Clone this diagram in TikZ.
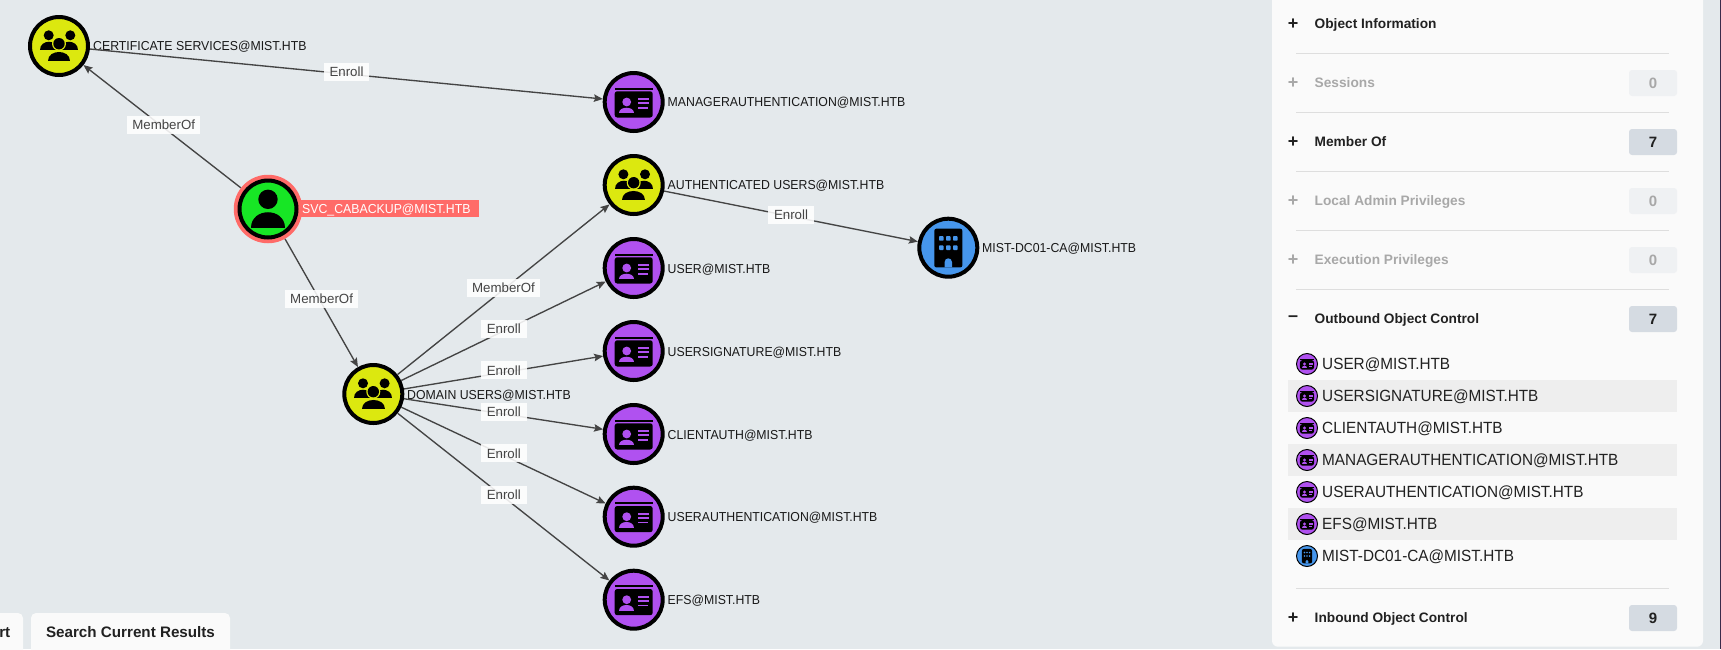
\documentclass[tikz,border=0pt]{standalone}
\usepackage{fontspec}
\setmainfont{Liberation Sans}
\newfontfamily\narrowfont[FakeStretch=.946]{Liberation Sans}
\usetikzlibrary{arrows.meta}
\definecolor{bgc}{HTML}{E4E9EC}
\definecolor{panelc}{HTML}{FAFAFA}
\definecolor{sepc}{HTML}{DEDEDE}
\definecolor{stripec}{HTML}{EEEEEE}
\definecolor{edgec}{HTML}{444444}
\definecolor{yellowc}{HTML}{DCE80F}
\definecolor{greenc}{HTML}{17E625}
\definecolor{purplec}{HTML}{B051F0}
\definecolor{bluec}{HTML}{4696EC}
\definecolor{redc}{HTML}{FF6B68}
\definecolor{badgeon}{HTML}{D5DBE2}
\definecolor{badgeoff}{HTML}{EFF1F3}
\definecolor{txtdark}{HTML}{212121}
\definecolor{txtoff}{HTML}{A8A8A8}
\definecolor{edgestrip}{HTML}{3A2A4A}
\tikzset{
  entity/.style={circle,draw=black,line width=4pt,inner sep=0pt,minimum size=58pt},
  mini/.style={circle,draw=black,line width=1pt,inner sep=0pt,minimum size=21pt},
  nodetext/.style={anchor=west,inner sep=0pt,text height=12pt,text depth=2.7pt,font=\narrowfont\fontsize{13}{15}\selectfont,text=black!90},
  edgelabel/.style={fill=white,fill opacity=.88,text opacity=1,text=edgec,inner sep=0pt,minimum height=18pt,minimum width=45.5pt,font=\fontsize{13.3}{15}\selectfont},
  memberlabel/.style={edgelabel,minimum width=73.5pt},
  edgeline/.style={draw=edgec,line width=1.35pt,-{Stealth[length=9pt,width=7.5pt,inset=1.5pt]}},
  rowtitle/.style={anchor=west,inner sep=0pt,text height=13pt,text depth=3.3pt,font=\fontsize{13.7}{15}\selectfont\bfseries,text=txtdark},
  rowoff/.style={rowtitle,text=txtoff},
  signon/.style={inner sep=0pt,font=\fontsize{18}{18}\selectfont\bfseries,text=txtdark},
  signoff/.style={signon,text=txtoff},
  badge/.style={fill=badgeon,rounded corners=3pt,minimum width=48pt,minimum height=26pt,inner sep=0pt,text=txtdark,font=\fontsize{15}{15}\selectfont\bfseries},
  badgeo/.style={badge,fill=badgeoff,text=txtoff},
  listtext/.style={anchor=west,inner sep=0pt,text height=15pt,text depth=3.4pt,font=\narrowfont\fontsize{16.2}{18}\selectfont,text=txtdark},
  sepline/.style={draw=sepc,line width=.9pt},
  buttontext/.style={inner sep=0pt,text height=14pt,text depth=3.3pt,font=\fontsize{15.2}{17}\selectfont\bfseries,text=txtdark},
  grouppic/.pic={
    \fill (-10.3,-10.7) circle (5);
    \fill (11.3,-10.7) circle (5);
    \fill (-19,4.3) .. controls (-19,-7) and (-1,-7) .. (-1,4.3) -- cycle;
    \fill (1,4.3) .. controls (1,-7) and (19,-7) .. (19,4.3) -- cycle;
    \fill[yellowc] (-13,17) .. controls (-13,1) and (13,1) .. (13,17) -- cycle;
    \fill[yellowc] (0,-2.3) circle (7);
    \fill (0,-2.3) circle (5.7);
    \fill (-11.3,15.3) .. controls (-11.3,3) and (11.3,3) .. (11.3,15.3) -- cycle;
  },
  userpic/.pic={
    \fill (0,-9.7) circle (9.7);
    \fill (-16.7,19.3) .. controls (-16.7,-2) and (16.7,-2) .. (16.7,19.3) -- cycle;
  },
  cardpic/.pic={
    \fill (-19,-14.5) rectangle (19,-12.3);
    \fill[rounded corners=2.5pt] (-19,-10.7) rectangle (19,15.5);
    \fill[purplec] (-7,0) circle (4.4);
    \fill[purplec] (-14.7,11) .. controls (-14.7,3.5) and (0.7,3.5) .. (0.7,11) -- cycle;
    \fill[purplec] (4.3,-4) rectangle (15,-2.2);
    \fill[purplec] (4.3,0.4) rectangle (15,2.2);
    \fill[purplec] (4.3,4.9) rectangle (14,6.6);
  },
  buildingpic/.pic={
    \fill[rounded corners=2pt] (-14,-19) rectangle (14,19.7);
    \foreach \wx in {-7,0,7}{\foreach \wy in {-9.3,0}{
      \fill[bluec,rounded corners=.8pt] (\wx-2.3,\wy-2.3) rectangle (\wx+2.3,\wy+2.3);}}
    \fill[bluec] (-3.7,19.7) -- (-3.7,14.4) .. controls (-3.7,9.4) and (3.7,9.4) .. (3.7,14.4) -- (3.7,19.7) -- cycle;
  },
}
\begin{document}
\begin{tikzpicture}[x=1pt,y=-1pt]
\useasboundingbox (0,0) rectangle (1721,649);
\fill[bgc] (0,0) rectangle (1721,649);
\fill[edgestrip] (1720,0) rectangle (1721,649);

% graph nodes
\node[circle,fill=redc,inner sep=0pt,minimum size=68.5pt] (svcring) at (268,209) {};
\node[entity,fill=greenc,minimum size=57pt] (svc) at (268,209) {};
\pic at (svc.center) {userpic};
\node[entity,fill=yellowc] (cert) at (59,46) {};
\pic at (cert.center) {grouppic};
\node[entity,fill=yellowc] (domain) at (373.3,394) {};
\pic at (domain.center) {grouppic};
\node[entity,fill=yellowc] (auth) at (633.7,185) {};
\pic at (auth.center) {grouppic};
\node[entity,fill=purplec] (manage) at (633.7,102) {};
\pic at (manage.center) {cardpic};
\node[entity,fill=purplec] (user) at (633.7,268) {};
\pic at (user.center) {cardpic};
\node[entity,fill=purplec] (usig) at (633.7,351) {};
\pic at (usig.center) {cardpic};
\node[entity,fill=purplec] (client) at (633.7,434) {};
\pic at (client.center) {cardpic};
\node[entity,fill=purplec] (uauth) at (633.7,516.7) {};
\pic at (uauth.center) {cardpic};
\node[entity,fill=purplec] (efs) at (633.7,599.7) {};
\pic at (efs.center) {cardpic};
\node[entity,fill=bluec] (ca) at (948.3,247.7) {};
\pic at (ca.center) {buildingpic};

% node texts
\node[nodetext] (certt) at (93,45.5) {CERTIFICATE SERVICES@MIST.HTB};
\node[anchor=west,fill=redc,inner sep=0pt,minimum width=179pt,minimum height=17pt] (svcbox) at (300,208.5) {};
\node[nodetext,text=white] (svct) at (302,208.5) {SVC\_CABACKUP@MIST.HTB};
\node[nodetext] (domaint) at (407,394.5) {DOMAIN USERS@MIST.HTB};
\node[nodetext] (autht) at (667.5,185) {AUTHENTICATED USERS@MIST.HTB};
\node[nodetext] (managet) at (667.5,102) {MANAGERAUTHENTICATION@MIST.HTB};
\node[nodetext] (usert) at (667.5,268.5) {USER@MIST.HTB};
\node[nodetext] (usigt) at (667.5,351.5) {USERSIGNATURE@MIST.HTB};
\node[nodetext] (clientt) at (667.5,434.5) {CLIENTAUTH@MIST.HTB};
\node[nodetext] (uautht) at (667.5,516.5) {USERAUTHENTICATION@MIST.HTB};
\node[nodetext] (efst) at (667.5,599.5) {EFS@MIST.HTB};
\node[nodetext] (cat) at (982,247.5) {MIST-DC01-CA@MIST.HTB};

% connectors
\draw[edgeline] (svcring) -- (cert);
\draw[edgeline] (svcring) -- (domain);
\draw[edgeline] (cert) -- (manage);
\draw[edgeline] (domain) -- (auth);
\draw[edgeline] (domain) -- (user);
\draw[edgeline] (domain) -- (usig);
\draw[edgeline] (domain) -- (client);
\draw[edgeline] (domain) -- (uauth);
\draw[edgeline] (domain) -- (efs);
\draw[edgeline] (auth) -- (ca);

% edge labels
\node[edgelabel] (l1) at (346.5,71.7) {Enroll};
\node[memberlabel] (l2) at (163.7,125) {MemberOf};
\node[memberlabel] (l3) at (321.6,298.5) {MemberOf};
\node[memberlabel] (l4) at (503.5,287.5) {MemberOf};
\node[edgelabel] (l5) at (503.8,328.5) {Enroll};
\node[edgelabel] (l6) at (503.8,370.3) {Enroll};
\node[edgelabel] (l7) at (503.8,412) {Enroll};
\node[edgelabel] (l8) at (503.8,453.3) {Enroll};
\node[edgelabel] (l9) at (503.8,495) {Enroll};
\node[edgelabel] (l10) at (791,214.7) {Enroll};

% side panel
\fill[panelc,rounded corners=6pt] (1272,-12) rectangle (1703,646.7);
\foreach \sy in {53,112.5,171.5,230.5,289.5,588}{\draw[sepline] (1296,\sy) -- (1669,\sy);}

\node[signon] (s1) at (1293,24) {+};
\node[rowtitle] (t1) at (1314.5,24) {Object Information};
\node[signoff] (s2) at (1293,83) {+};
\node[rowoff] (t2) at (1314.5,83) {Sessions};
\node[badgeo] (b2) at (1653,83) {0};
\node[signon] (s3) at (1293,142) {+};
\node[rowtitle] (t3) at (1314.5,142) {Member Of};
\node[badge] (b3) at (1653,142) {7};
\node[signoff] (s4) at (1293,201) {+};
\node[rowoff] (t4) at (1314.5,201) {Local Admin Privileges};
\node[badgeo] (b4) at (1653,201) {0};
\node[signoff] (s5) at (1293,260) {+};
\node[rowoff] (t5) at (1314.5,260) {Execution Privileges};
\node[badgeo] (b5) at (1653,260) {0};
\node[signon] (s6) at (1293,319) {–};
\node[rowtitle] (t6) at (1314.5,319) {Outbound Object Control};
\node[badge] (b6) at (1653,319) {7};
\node[signon] (s7) at (1293,618) {+};
\node[rowtitle] (t7) at (1314.5,618) {Inbound Object Control};
\node[badge] (b7) at (1653,618) {9};

\fill[stripec] (1288,380) rectangle (1677,412);
\fill[stripec] (1288,444) rectangle (1677,476);
\fill[stripec] (1288,508) rectangle (1677,540);
\node[mini,fill=purplec] (i1) at (1307,364) {};
\pic[scale=.37] at (i1.center) {cardpic};
\node[listtext] (x1) at (1322,363.5) {USER@MIST.HTB};
\node[mini,fill=purplec] (i2) at (1307,396) {};
\pic[scale=.37] at (i2.center) {cardpic};
\node[listtext] (x2) at (1322,395.5) {USERSIGNATURE@MIST.HTB};
\node[mini,fill=purplec] (i3) at (1307,428) {};
\pic[scale=.37] at (i3.center) {cardpic};
\node[listtext] (x3) at (1322,427.5) {CLIENTAUTH@MIST.HTB};
\node[mini,fill=purplec] (i4) at (1307,460) {};
\pic[scale=.37] at (i4.center) {cardpic};
\node[listtext] (x4) at (1322,459.5) {MANAGERAUTHENTICATION@MIST.HTB};
\node[mini,fill=purplec] (i5) at (1307,492) {};
\pic[scale=.37] at (i5.center) {cardpic};
\node[listtext] (x5) at (1322,491.5) {USERAUTHENTICATION@MIST.HTB};
\node[mini,fill=purplec] (i6) at (1307,524) {};
\pic[scale=.37] at (i6.center) {cardpic};
\node[listtext] (x6) at (1322,523.5) {EFS@MIST.HTB};
\node[mini,fill=bluec] (i7) at (1307,556) {};
\pic[scale=.37] at (i7.center) {buildingpic};
\node[listtext] (x7) at (1322,555.5) {MIST-DC01-CA@MIST.HTB};

% bottom buttons
\fill[panelc,rounded corners=5pt] (-20,613) rectangle (23,665);
\fill[panelc,rounded corners=5pt] (31,613) rectangle (230,665);
\node[buttontext,anchor=east] (btna) at (10.5,632) {rt};
\node[buttontext] (btnb) at (130.5,632) {Search Current Results};
\end{tikzpicture}
\end{document}
